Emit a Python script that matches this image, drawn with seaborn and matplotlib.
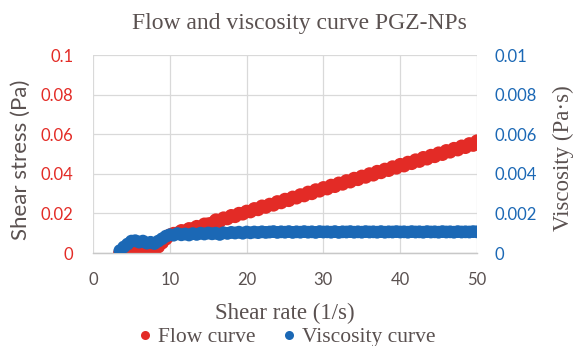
import matplotlib
matplotlib.use("Agg")
import matplotlib.pyplot as plt
from matplotlib.lines import Line2D
import seaborn as sns
import pandas as pd

shear_rate = [3.5, 4.0, 4.5, 5.0, 5.5, 6.0, 6.5, 7.0, 7.5, 8.0, 8.5, 9.0, 9.5, 10.0,
              10.5, 11.0, 11.5, 12.0, 12.5, 13.0, 13.5, 14.0, 14.5, 15.0,
              15.5, 16.0, 16.5, 17.0, 17.5, 18.0, 18.5, 19.0, 19.5, 20.0,
              20.5, 21.0, 21.5, 22.0, 22.5, 23.0, 23.5, 24.0, 24.5, 25.0,
              25.5, 26.0, 26.5, 27.0, 27.5, 28.0, 28.5, 29.0, 29.5, 30.0,
              30.5, 31.0, 31.5, 32.0, 32.5, 33.0, 33.5, 34.0, 34.5, 35.0,
              35.5, 36.0, 36.5, 37.0, 37.5, 38.0, 38.5, 39.0, 39.5, 40.0,
              40.5, 41.0, 41.5, 42.0, 42.5, 43.0, 43.5, 44.0, 44.5, 45.0,
              45.5, 46.0, 46.5, 47.0, 47.5, 48.0, 48.5, 49.0, 49.5, 50.0]

shear_stress = [0.0000, 0.0008, 0.0015, 0.0020, 0.0024, 0.0020, 0.0018, 0.0012, 0.0008, 0.0016,
                0.0032, 0.0052, 0.0072, 0.0090,
                0.0098, 0.0100, 0.0112, 0.0110, 0.0122, 0.0121, 0.0133, 0.0131, 0.0145, 0.0146,
                0.0150, 0.0166, 0.0160, 0.0176, 0.0174, 0.0188, 0.0185, 0.0199, 0.0198, 0.0210,
                0.0209, 0.0223, 0.0220, 0.0236, 0.0232, 0.0245, 0.0243, 0.0258, 0.0255, 0.0270,
                0.0266, 0.0281, 0.0279, 0.0293, 0.0290, 0.0306, 0.0301, 0.0318, 0.0314, 0.0329,
                0.0325, 0.0341, 0.0337, 0.0352, 0.0349, 0.0364, 0.0360, 0.0376, 0.0372, 0.0387,
                0.0384, 0.0399, 0.0395, 0.0411, 0.0407, 0.0422, 0.0418, 0.0434, 0.0430, 0.0446,
                0.0441, 0.0457, 0.0453, 0.0469, 0.0464, 0.0481, 0.0476, 0.0492, 0.0488, 0.0504,
                0.0499, 0.0516, 0.0511, 0.0527, 0.0522, 0.0539, 0.0534, 0.0551, 0.0545, 0.0565]

viscosity = [0.00012, 0.00030, 0.00045, 0.00060, 0.00062, 0.00055, 0.00060, 0.00050, 0.00054, 0.00048,
             0.00060, 0.00072, 0.00085, 0.00092,
             0.00090, 0.00098, 0.00092, 0.00096, 0.00091, 0.00098, 0.00094, 0.00100, 0.00096, 0.00101,
             0.00097, 0.00100, 0.00094, 0.00102, 0.00099, 0.00104, 0.00101, 0.00105, 0.00100, 0.00106,
             0.00102, 0.00106, 0.00103, 0.00107, 0.00104, 0.00106, 0.00108, 0.00104, 0.00107, 0.00105,
             0.00108, 0.00104, 0.00107, 0.00105, 0.00108, 0.00105, 0.00107, 0.00104, 0.00108, 0.00106,
             0.00107, 0.00105, 0.00108, 0.00104, 0.00107, 0.00106, 0.00108, 0.00105, 0.00107, 0.00105,
             0.00108, 0.00106, 0.00107, 0.00105, 0.00108, 0.00105, 0.00107, 0.00106, 0.00108, 0.00106,
             0.00107, 0.00105, 0.00108, 0.00106, 0.00107, 0.00105, 0.00108, 0.00106, 0.00107, 0.00105,
             0.00108, 0.00106, 0.00107, 0.00105, 0.00108, 0.00106, 0.00107, 0.00106, 0.00108, 0.00107]

x_ticks = [0, 10, 20, 30, 40, 50]
left_ticks = [0, 0.02, 0.04, 0.06, 0.08, 0.1]
left_labels = ["0", "0.02", "0.04", "0.06", "0.08", "0.1"]
right_ticks = [0, 0.002, 0.004, 0.006, 0.008, 0.01]
right_labels = ["0", "0.002", "0.004", "0.006", "0.008", "0.01"]

title = "Flow and viscosity curve PGZ-NPs"
x_label = "Shear rate (1/s)"
left_label = "Shear stress (Pa)"
right_label = "Viscosity (Pa\u00b7s)"
series_names = ["Flow curve", "Viscosity curve"]

RED = "#E32B26"
BLUE = "#1B68B5"
TXT = "#5A5150"
GRID = "#D9D9D9"
SERIF = "Liberation Serif"
SANS = "Lato"

sns.set_theme(style="white")
plt.rcParams["font.family"] = ["DejaVu Sans"]

df = pd.DataFrame({"rate": shear_rate, "stress": shear_stress, "visc": viscosity})

W, H = 575, 346
fig = plt.figure(figsize=(W / 100, H / 100), dpi=100)
x0, x1, ytop, ybot = 93, 477, 55, 253
ax = fig.add_axes([x0 / W, 1 - ybot / H, (x1 - x0) / W, (ybot - ytop) / H])
ax2 = ax.twinx()

sns.scatterplot(data=df, x="rate", y="stress", ax=ax, color=RED, s=95,
                edgecolor="none", linewidth=0, legend=False, zorder=3)
sns.scatterplot(data=df, x="rate", y="visc", ax=ax2, color=BLUE, s=85,
                edgecolor="none", linewidth=0, legend=False, zorder=3)

ax.set_xlim(0, 50)
ax.set_ylim(0, 0.1)
ax2.set_ylim(0, 0.01)
ax.set_xticks(x_ticks)
ax.set_xticklabels([str(t) for t in x_ticks], fontfamily=SANS, fontsize=12, color=TXT)
ax.set_yticks(left_ticks)
ax.set_yticklabels(left_labels, fontfamily=SANS, fontsize=12, color=RED)
ax2.set_yticks(right_ticks)
ax2.set_yticklabels(right_labels, fontfamily=SANS, fontsize=12, color=BLUE)

ax.grid(True, color=GRID, linewidth=0.9)
ax.set_axisbelow(True)
for a in (ax, ax2):
    for side in ("top", "left", "right"):
        a.spines[side].set_visible(False)
    a.spines["bottom"].set_color("#C8C8C8")
    a.spines["bottom"].set_linewidth(0.9)
ax.tick_params(axis="x", length=0, pad=14)
ax.tick_params(axis="y", length=0, pad=14)
ax2.tick_params(axis="y", length=0, pad=12.5)
ax.set_xlabel("")
ax.set_ylabel("")
ax2.set_ylabel("")

fig.text(299 / W, 1 - 23 / H, title, fontfamily=SERIF, fontsize=17, color=TXT,
         ha="center", va="center")
fig.text(285 / W, 1 - 313 / H, x_label, fontfamily=SERIF, fontsize=16.5, color=TXT,
         ha="center", va="center")
fig.text(21 / W, 1 - 160 / H, left_label, fontfamily=SANS, fontsize=16, color=TXT,
         ha="center", va="center", rotation=90)
fig.text(563 / W, 1 - 158 / H, right_label, fontfamily=SERIF, fontsize=16.5, color=TXT,
         ha="center", va="center", rotation=90)

handles = [Line2D([0], [0], marker="o", linestyle="none", markersize=6.5,
                  markerfacecolor=c, markeredgecolor="none") for c in (RED, BLUE)]
leg = fig.legend(handles, series_names, loc="center", bbox_to_anchor=(284 / W, 1 - 337 / H),
                 ncol=2, frameon=False, handletextpad=0.0, columnspacing=0.95,
                 handlelength=1.2, borderpad=0, borderaxespad=0,
                 prop={"family": SERIF, "size": 15.5})
for t in leg.get_texts():
    t.set_color(TXT)

fig.savefig("out.png", dpi=100)
